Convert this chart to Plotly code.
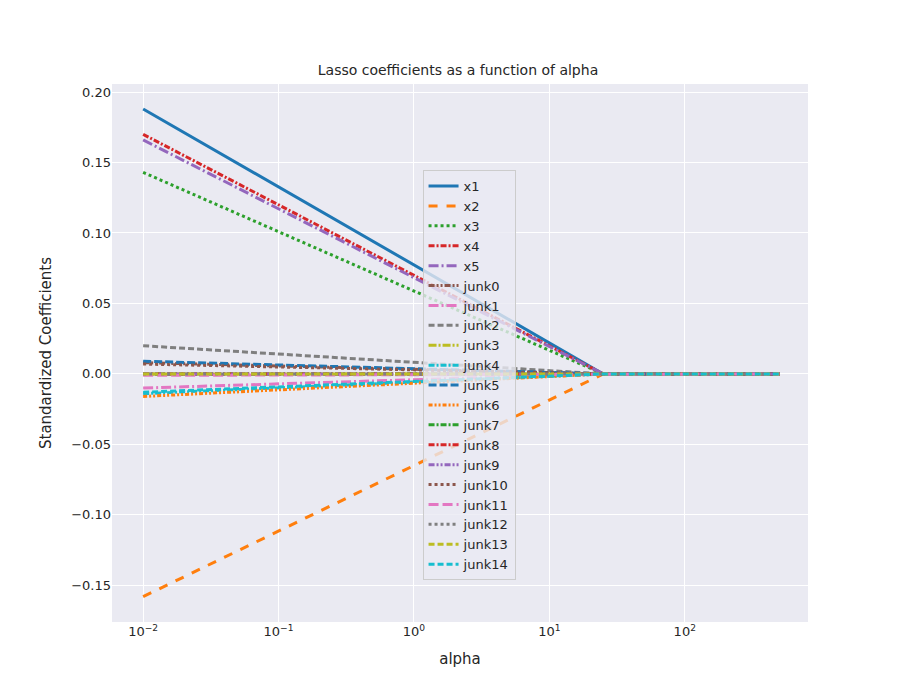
import plotly.graph_objects as go

alphas = [0.01, 25, 500]
names = ["x1", "x2", "x3", "x4", "x5"] + [f"junk{i}" for i in range(15)]
start_coefs = [0.188, -0.158, 0.143, 0.170, 0.166,
               0.008, -0.010, 0.020, 0.0, -0.014,
               0.009, -0.016, 0.0, 0.0, 0.0,
               0.007, -0.001, 0.0, 0.0, -0.013]
tick_vals = [0.01, 0.1, 1, 10, 100]
tick_text = ["10<sup>\u22122</sup>", "10<sup>\u22121</sup>", "10<sup>0</sup>",
             "10<sup>1</sup>", "10<sup>2</sup>"]

colors = ["#1f77b4", "#ff7f0e", "#2ca02c", "#d62728", "#9467bd",
          "#8c564b", "#e377c2", "#7f7f7f", "#bcbd22", "#17becf"]
dashes = ["solid", "dash", "dot", "6px,2px,2px,2px", "10px,3px,2px,3px",
          "6px,2px,2px,2px,2px,2px", "10px,3px,2px,3px", "6px,3px", "8px,2px,2px,2px", "6px,2px,2px,2px",
          "8px,3px", "4px,2px,2px,2px,2px,2px", "6px,2px,2px,2px", "6px,2px,2px,2px", "6px,2px,2px,2px,2px,2px",
          "dot", "10px,4px", "dot", "6px,3px", "6px,3px"]

fig = go.Figure()
for i, (name, c0) in enumerate(zip(names, start_coefs)):
    fig.add_trace(go.Scatter(
        x=alphas, y=[c0, 0.0, 0.0], mode="lines", name=name,
        line=dict(color=colors[i % 10], dash=dashes[i], width=3),
    ))

fig.update_layout(
    width=900, height=700,
    paper_bgcolor="white", plot_bgcolor="#eaeaf2",
    font=dict(family="DejaVu Sans", size=13, color="#262626"),
    title=dict(text="Lasso coefficients as a function of alpha", x=0.5, xanchor="center",
               y=0.905, yanchor="bottom", font=dict(size=14)),
    margin=dict(l=104, r=100, t=76, b=86),
    xaxis=dict(type="log", range=[-2.23, 2.91], tickvals=tick_vals, ticktext=tick_text,
               gridcolor="white", gridwidth=1.2, zeroline=False, showline=False,
               tickfont=dict(size=13),
               title=dict(text="alpha", font=dict(size=15)), ticks=""),
    yaxis=dict(range=[-0.176, 0.2057], dtick=0.05, tickformat=".2f",
               gridcolor="white", gridwidth=1.2, zeroline=False,
               title=dict(text="Standardized Coefficients", font=dict(size=15))),
    legend=dict(x=0.513, y=0.84, xanchor="center", yanchor="top",
                bgcolor="rgba(234,234,242,0.8)", bordercolor="#cccccc", borderwidth=1,
                font=dict(size=13), tracegroupgap=0, itemwidth=30),
)

fig.write_html("out.html")
